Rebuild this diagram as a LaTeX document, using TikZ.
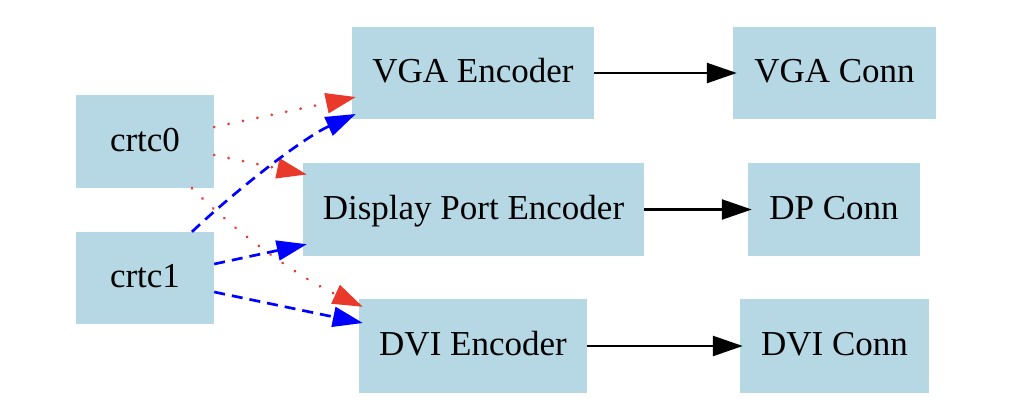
\documentclass[tikz,border=0pt]{standalone}
\usepackage{fontspec}
\setmainfont{Liberation Serif}
\usepackage{tikz}
\usetikzlibrary{arrows.meta}
\definecolor{boxblue}{HTML}{B5D8E4}
\definecolor{crtcred}{HTML}{E8392A}
\tikzset{
  box/.style={rectangle, fill=boxblue, inner sep=0pt, minimum height=92pt,
    text height=24pt, text depth=5pt, font=\fontsize{35}{40}\selectfont},
  redline/.style={->, crtcred, line width=3pt, line cap=round, dash pattern=on 0.01pt off 14.7pt},
  blueline/.style={->, blue, line width=2.7pt, dash pattern=on 11pt off 7pt},
  >={Triangle[length=30pt, width=20pt]}
}

\begin{document}
\begin{tikzpicture}[x=1pt, y=-1pt]
    \useasboundingbox (0,0) rectangle (1026,413);
    \node[box, minimum width=138pt, minimum height=93pt] (crtc0) at (145, 141.5){crtc0};
    \node[box, minimum width=138pt] (crtc1) at (145, 278){crtc1};
    \node[box, minimum width=242pt] (vga) at (473, 73){VGA Encoder};
    \node[box, minimum width=341pt, minimum height=93pt] (dp) at (473.5, 209.5){Display Port Encoder};
    \node[box, minimum width=228pt, minimum height=94pt] (dvi) at (473, 346){DVI Encoder};
    \node[box, minimum width=203pt] (vgaconn) at (834.5, 73){VGA Conn};
    \node[box, minimum width=172pt, minimum height=93pt] (dpconn) at (834, 209.5){DP Conn};
    \node[box, minimum width=189pt, minimum height=94pt] (dviconn) at (834.5, 346){DVI Conn};
    % crtc0
    \draw[redline] ([yshift=14.5pt]crtc0.east)--([xshift=4pt, yshift=-24pt]vga.west);
    \draw[redline] ([yshift=-13.5pt]crtc0.east)--([xshift=4pt, yshift=35pt]dp.west);
    \draw[redline] ([xshift=47pt]crtc0.south) .. controls +(50,50) and +(-60,-27.6) .. ([xshift=4pt, yshift=-8pt]dvi.north west);
    % crtc1
    \draw[blueline] ([xshift=47pt]crtc1.north) .. controls +(40,-38) and +(-55,25) .. ([xshift=4pt, yshift=-41pt]vga.west);
    \draw[blueline] ([yshift=14pt]crtc1.east)--([xshift=4pt, yshift=12pt]dp.south west);
    \draw[blueline] ([yshift=-14pt]crtc1.east)--([xshift=4pt, yshift=23pt]dvi.west);
    % encoders
    \draw[->, line width=2.5pt] (vga.east)--([xshift=4pt]vgaconn.west);
    \draw[->, line width=2.5pt] (dp.east)--([xshift=4pt]dpconn.west);
    \draw[->, line width=2.5pt] (dvi.east)--([xshift=3pt]dviconn.west);
  \end{tikzpicture}
\end{document}
